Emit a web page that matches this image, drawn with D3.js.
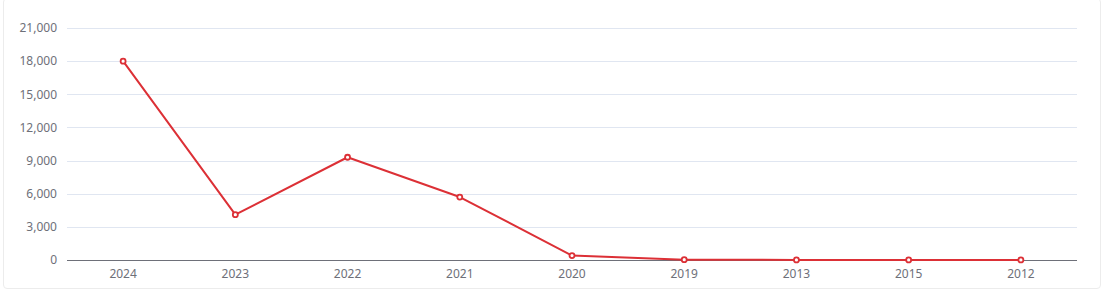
<!DOCTYPE html>
<html>
<head>
<meta charset="utf-8">
<script src="https://cdn.jsdelivr.net/npm/d3@7"></script>
<style>
  html, body { margin: 0; padding: 0; background: #fff; }
  .frame { position: absolute; left: 3px; top: -2px; width: 1098px; height: 291px;
           border: 1px solid #ececec; border-radius: 4px; box-sizing: border-box; }
  svg { position: absolute; left: 0; top: 0; }
  text { font-family: "Microsoft YaHei", "Noto Sans", "DejaVu Sans", sans-serif; }
</style>
</head>
<body>
<div class="frame"></div>
<svg width="1108" height="291"></svg>
<script>
var years = ["2024", "2023", "2022", "2021", "2020", "2019", "2013", "2015", "2012"];
var counts = [18000, 4100, 9300, 5700, 400, 30, 5, 5, 5];
var yTicks = [0, 3000, 6000, 9000, 12000, 15000, 18000, 21000];

var svg = d3.select("svg"),
    margin = { top: 28, right: 31, bottom: 31, left: 67 },
    width = svg.attr("width") - margin.left - margin.right,
    height = svg.attr("height") - margin.top - margin.bottom,
    g = svg.append("g").attr("transform", "translate(" + margin.left + "," + margin.top + ")");

var xScale = d3.scaleBand().domain(years).range([0, width]),
    yScale = d3.scaleLinear().domain([0, 21000]).range([height, 0]);

var data = years.map(function (y, i) {
    return { year: y, value: counts[i] };
});

// grid lines
g.append("g")
    .selectAll("line")
    .data(yTicks.slice(1))
    .enter().append("line")
    .attr("x1", 0)
    .attr("x2", width)
    .attr("y1", function (d) { return Math.round(yScale(d)) + 0.5; })
    .attr("y2", function (d) { return Math.round(yScale(d)) + 0.5; })
    .attr("stroke", "#e0e6f1");

// y axis
var yAxis = d3.axisLeft(yScale).tickValues(yTicks).tickSize(0).tickPadding(10)
    .tickFormat(d3.format(","));
var gY = g.append("g").call(yAxis);
gY.select(".domain").remove();
gY.selectAll("text").attr("fill", "#6e7079").style("font-size", "12px");

// x axis
var xAxis = d3.axisBottom(xScale).tickSize(0).tickPadding(9);
var gX = g.append("g")
    .attr("transform", "translate(0," + (Math.round(height) + 0.5) + ")")
    .call(xAxis);
gX.select(".domain").attr("stroke", "#6e7079").attr("d", "M0,0H" + width);
gX.selectAll("text").attr("fill", "#6e7079").style("font-size", "12px");

var line = d3.line()
    .x(function (d) { return xScale(d.year) + xScale.bandwidth() / 2; })
    .y(function (d) { return yScale(d.value); });

g.append("path")
    .datum(data)
    .attr("d", line)
    .attr("fill", "none")
    .attr("stroke", "#dc3036")
    .attr("stroke-width", 2)
    .attr("stroke-linejoin", "round");

g.selectAll(".dot")
    .data(data)
    .enter().append("circle")
    .attr("class", "dot")
    .attr("cx", function (d) { return xScale(d.year) + xScale.bandwidth() / 2; })
    .attr("cy", function (d) { return yScale(d.value); })
    .attr("r", 2.5)
    .attr("fill", "#fff")
    .attr("stroke", "#dc3036")
    .attr("stroke-width", 1.8);
</script>
</body>
</html>
